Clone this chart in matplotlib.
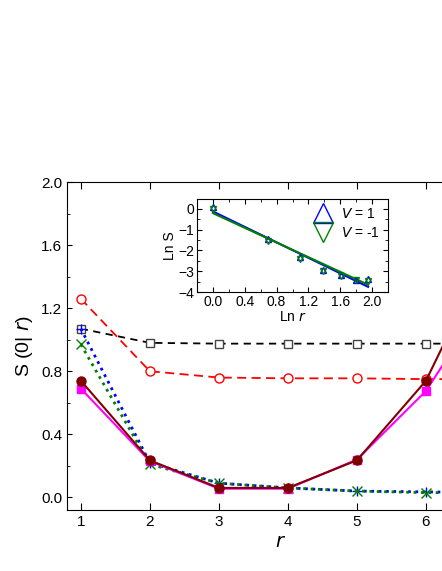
import numpy as np
import matplotlib
matplotlib.use("Agg")
import matplotlib.pyplot as plt
plt.rcParams['font.family'] = ['Liberation Sans', 'DejaVu Sans']

r = [1, 2, 3, 4, 5, 6, 7]
red = [1.26, 0.80, 0.76, 0.755, 0.755, 0.75, 0.75]
black = [1.07, 0.98, 0.975, 0.975, 0.975, 0.975, 0.975]
blue = [1.07, 0.22, 0.09, 0.06, 0.04, 0.035, 0.03]
green = [0.97, 0.21, 0.09, 0.06, 0.04, 0.03, 0.03]
maroon = [0.74, 0.235, 0.06, 0.06, 0.235, 0.74, 1.64]
magenta = [0.69, 0.23, 0.055, 0.055, 0.24, 0.675, 1.35]

lnr = np.log(r)
ln_up = [0.1, -1.45, -2.3, -2.95, -3.2, -3.4, -3.35]
ln_dn = [0.0, -1.55, -2.4, -3.0, -3.25, -3.4, -3.45]
fit_x = [0, 1.95]
fit_up = [-0.12, -3.75]
fit_dn = [-0.2, -3.65]

fig = plt.figure(figsize=(4.42, 5.71), dpi=100)
ax = fig.add_axes([67/442, 1-510/571, (495-67)/442, (510-182)/571])
ax.plot(r, red, '--', color='red', marker='o', mfc='white', ms=6.5, lw=1.3, dashes=(5, 3))
ax.plot(r, black, '--', color='black', marker='s', mfc='white', mec='#444444', ms=5.5, lw=1.3, dashes=(4, 3))
ax.plot(r, blue, ':', color='blue', marker='+', ms=7, lw=2)
ax.plot(r, green, ':', color='green', marker='x', ms=7, lw=2)
ax.plot(r, magenta, '-', color='magenta', marker='s', ms=5.5, lw=1.5)
ax.plot(r, maroon, '-', color='#800000', marker='o', ms=6.5, lw=1.5)
ax.set_xlim(0.8, 7)
ax.set_ylim(-0.08, 2.0)
ax.set_xticks([1, 2, 3, 4, 5, 6])
ax.set_yticks([0.0, 0.4, 0.8, 1.2, 1.6, 2.0])
ax.set_yticks(np.arange(0, 2.01, 0.2), minor=True)
ax.tick_params(direction='in', which='both', labelsize=11, top=True, right=True)
ax.tick_params(axis='x', which='major', length=5)
ax.set_xlabel('$r$', fontsize=14)
ax.set_ylabel('S (0| $r$)', fontsize=14)

ins = fig.add_axes([197/442, 1-292/571, 191/442, 93/571])
ins.plot(fit_x, fit_up, color='blue', lw=1.5)
ins.plot(fit_x, fit_dn, color='green', lw=1.5)
ins.plot(lnr, ln_up, '^', mfc='none', mec='blue', ms=5, ls='none', label='$V$ = 1')
ins.plot(lnr, ln_dn, 'v', mfc='none', mec='green', ms=5, ls='none', label='$V$ = -1')
ins.set_xlim(-0.2, 2.19)
ins.set_ylim(-4, 0.48)
ins.set_xticks([0.0, 0.4, 0.8, 1.2, 1.6, 2.0])
ins.set_xticks(np.arange(-0.2, 2.2, 0.2), minor=True)
ins.set_yticks([0, -1, -2, -3, -4])
ins.set_yticks(np.arange(-4, 0.5, 0.5), minor=True)
ins.tick_params(direction='in', which='both', labelsize=10, top=True, right=True, pad=2)
ins.set_xlabel('Ln $r$', fontsize=10, labelpad=1)
ins.set_ylabel('Ln S', fontsize=10, labelpad=1)
ins.legend(loc='upper right', frameon=False, fontsize=10, markerscale=2.8, handlelength=1.5,
           borderpad=0.1, labelspacing=0.3, handletextpad=0.5)
fig.savefig('out.png', dpi=100)
